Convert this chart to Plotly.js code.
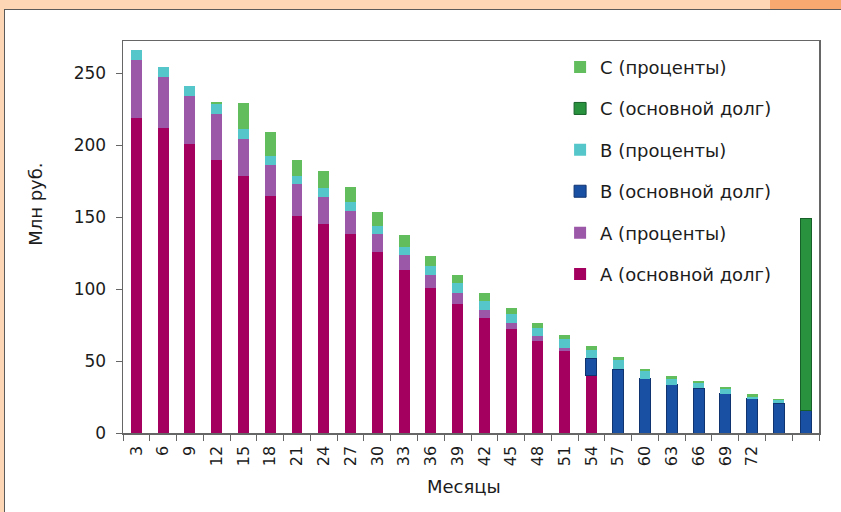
<!DOCTYPE html>
<html>
<head>
<meta charset="utf-8">
<script src="https://cdn.plot.ly/plotly-3.0.1.min.js"></script>
<style>
  html, body { margin: 0; padding: 0; }
  body { width: 841px; height: 512px; background: #fdd6b6; position: relative; overflow: hidden; }
  #tab { position: absolute; left: 770px; top: 0; width: 71px; height: 9px; background: #f8a970; }
  #panel { position: absolute; left: 4px; top: 9px; width: 860px; height: 520px; background: #ffffff;
           border-left: 1px solid #5a5a5a; border-top: 1px solid #5a5a5a; box-sizing: border-box; }
  #chart { position: absolute; left: 0; top: 0; width: 841px; height: 512px; }
</style>
</head>
<body>
<div id="tab"></div>
<div id="panel"></div>
<div id="chart"></div>
<script>
// Payment schedule by quarter (months), million roubles
const months = ["3","6","9","12","15","18","21","24","27","30","33","36","39","42","45","48","51","54","57","60","63","66","69","72","75","78"];
const monthLabels = ["3","6","9","12","15","18","21","24","27","30","33","36","39","42","45","48","51","54","57","60","63","66","69","72","",""];

const aPrincipal = [219, 212, 201, 190, 179, 165, 151, 145, 138, 126, 113, 101, 90, 80, 72, 64, 57, 40, null, null, null, null, null, null, null, null];
const aInterest  = [40, 35.5, 33, 31.5, 25.5, 21.5, 22, 19, 16.5, 12, 11, 8.8, 7, 5.6, 4.2, 3.3, 2.4, null, null, null, null, null, null, null, null, null];
const bPrincipal = [null, null, null, null, null, null, null, null, null, null, null, null, null, null, null, null, null, 12, 44.3, 37.7, 33.4, 31.1, 27.3, 23.8, 20.8, 15.5];
const bInterest  = [7, 7, 7, 7, 6.7, 6, 6, 6.5, 6.4, 6, 5.3, 6.2, 7, 6.4, 6.5, 6, 5.7, 5.8, 6.4, 5.2, 4.3, 3.4, 3.1, 1.4, 2.1, null];
const cPrincipal = [null, null, null, null, null, null, null, null, null, null, null, null, null, null, null, null, null, null, null, null, null, null, null, null, null, 133.7];
const cInterest  = [null, null, null, 1.3, 18, 17, 11, 11.6, 10, 9.7, 8, 6.8, 6, 5.4, 4.4, 3.3, 3.3, 2.8, 1.9, 1.6, 1.9, 1.6, 1.4, 1.7, 0.9, null];

const seriesNames = ["A (основной долг)", "A (проценты)", "B (основной долг)", "B (проценты)", "C (основной долг)", "C (проценты)"];
const yTicks = [0, 50, 100, 150, 200, 250];

const FONT = "DejaVu Sans, Arial, sans-serif";
const TEXT = "#1c1c1c";

// stacked from the bottom up; the legend lists them top-down in reverse
function barTrace(values, idx, color, lineColor) {
  return {
    type: "bar",
    x: months,
    y: values,
    name: seriesNames[idx],
    legendgroup: seriesNames[idx],
    legendrank: seriesNames.length - idx,
    marker: { color: color, line: { color: lineColor || color, width: lineColor ? 1 : 0 } },
    hoverinfo: "x+y+name"
  };
}

const data = [
  barTrace(aPrincipal, 0, "#a3005f"),
  barTrace(aInterest,  1, "#9b57a8"),
  barTrace(bPrincipal, 2, "#1a50a3", "#0f3470"),
  barTrace(bInterest,  3, "#55c6c9"),
  barTrace(cPrincipal, 4, "#29923e", "#17602a"),
  barTrace(cInterest,  5, "#62be5d")
];

const layout = {
  width: 841,
  height: 512,
  paper_bgcolor: "rgba(0,0,0,0)",
  plot_bgcolor: "rgba(0,0,0,0)",
  margin: { l: 123, r: 22, t: 41, b: 79, pad: 0 },
  barmode: "stack",
  bargap: 0.59,
  font: { family: FONT, color: TEXT, size: 16 },
  showlegend: true,
  legend: {
    x: 0.628, xanchor: "left",
    y: 0.98, yanchor: "top",
    traceorder: "grouped",
    tracegroupgap: 15,
    bgcolor: "rgba(0,0,0,0)",
    font: { family: FONT, size: 18, color: TEXT }
  },
  xaxis: {
    type: "category",
    tickmode: "array",
    tickvals: months,
    ticktext: monthLabels,
    tickangle: -90,
    tickson: "boundaries",
    ticks: "outside",
    ticklen: 6,
    tickcolor: "#666666",
    ticklabelstandoff: 5,
    tickfont: { family: FONT, size: 16, color: TEXT },
    showline: true,
    linecolor: "#666666",
    linewidth: 1.5,
    mirror: true,
    showgrid: false,
    zeroline: false,
    range: [-0.5, 25.5],
    fixedrange: true
  },
  yaxis: {
    range: [0, 272.5],
    tickmode: "array",
    tickvals: yTicks,
    ticks: "outside",
    ticklen: 6,
    tickcolor: "#666666",
    ticklabelstandoff: 6,
    tickfont: { family: FONT, size: 17, color: TEXT },
    showline: true,
    linecolor: "#666666",
    linewidth: 1.5,
    mirror: true,
    showgrid: false,
    zeroline: false,
    fixedrange: true
  },
  annotations: [
    {
      text: "Млн руб.",
      xref: "paper", yref: "paper",
      x: 0, y: 0.582,
      xshift: -87,
      xanchor: "center", yanchor: "middle",
      textangle: -90,
      showarrow: false,
      font: { family: FONT, size: 18, color: TEXT }
    },
    {
      text: "Месяцы",
      xref: "paper", yref: "paper",
      x: 0.49, y: 0,
      yshift: -53,
      xanchor: "center", yanchor: "middle",
      showarrow: false,
      font: { family: FONT, size: 18, color: TEXT }
    }
  ]
};

Plotly.newPlot("chart", data, layout, { displayModeBar: false, staticPlot: true });
</script>
</body>
</html>
